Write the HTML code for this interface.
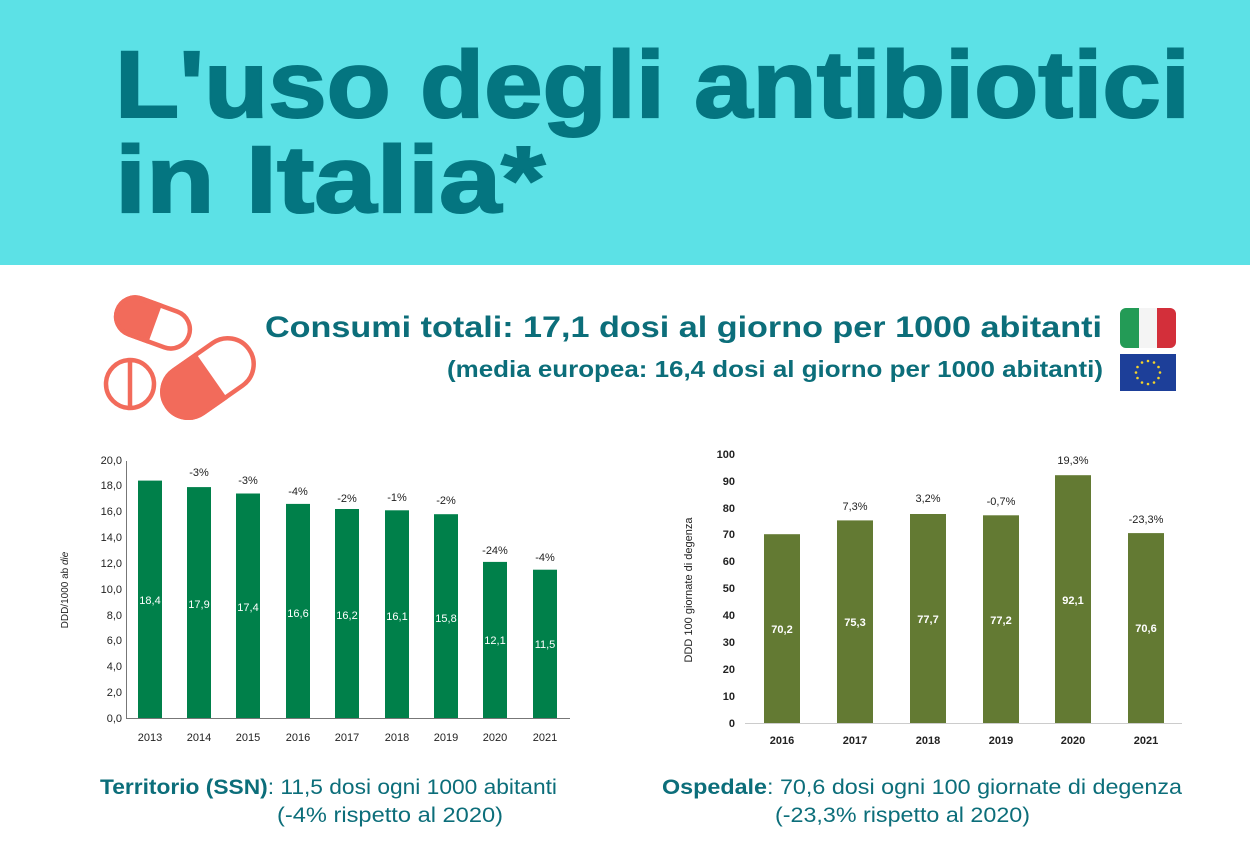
<!DOCTYPE html>
<html><head><meta charset="utf-8"><style>
html,body{margin:0;padding:0;background:#fff;}
svg{display:block;font-family:"Liberation Sans",sans-serif;}
</style></head><body>
<svg width="1250" height="859" viewBox="0 0 1250 859" xmlns="http://www.w3.org/2000/svg">
<rect x="0" y="0" width="1250" height="265" fill="#5ce1e6"/>
<g fill="#047580" font-weight="bold" font-size="95" stroke="#047580" stroke-width="2">
<text x="115" y="117" textLength="1075" lengthAdjust="spacingAndGlyphs">L'uso degli antibiotici</text>
<text x="115" y="212" textLength="430" lengthAdjust="spacingAndGlyphs">in Italia*</text>
</g>
<!-- pills -->
<g fill="none" stroke="#f26b5b" stroke-width="4.5">
<g transform="translate(153,323) rotate(20)">
<rect x="-38" y="-19" width="76" height="38" rx="19"/>
<path d="M0,-19 L-19,-19 A19,19 0 0 0 -19,19 L0,19 Z" fill="#f26b5b"/>
</g>
<circle cx="130" cy="384" r="24"/>
<line x1="130" y1="360" x2="130" y2="408"/>
<g transform="translate(208,378) rotate(-35)">
<rect x="-50" y="-26" width="100" height="52" rx="26"/>
<path d="M2,-26 L-24,-26 A26,26 0 0 0 -24,26 L2,26 Z" fill="#f26b5b"/>
</g>
</g>
<g fill="#0c6e7a" font-weight="bold">
<text x="265" y="337" font-size="30" textLength="837" lengthAdjust="spacingAndGlyphs">Consumi totali: 17,1 dosi al giorno per 1000 abitanti</text>
<text x="447" y="377" font-size="23" textLength="656" lengthAdjust="spacingAndGlyphs">(media europea: 16,4 dosi al giorno per 1000 abitanti)</text>
</g>
<!-- flags -->
<rect x="1120" y="308" width="56" height="40" rx="6" fill="#f4f4f4"/>
<path d="M1126,308 h13 v40 h-13 a6,6 0 0 1 -6,-6 v-28 a6,6 0 0 1 6,-6z" fill="#239b56"/>
<path d="M1157,308 h13 a6,6 0 0 1 6,6 v28 a6,6 0 0 1 -6,6 h-13z" fill="#d32f3a"/>
<rect x="1120" y="354" width="56" height="37" fill="#1d3f99"/>
<g fill="#f5d42a">
<circle cx="1148" cy="361" r="1.3"/><circle cx="1154" cy="362.5" r="1.3"/><circle cx="1158.5" cy="367" r="1.3"/><circle cx="1160" cy="372.5" r="1.3"/><circle cx="1158.5" cy="378" r="1.3"/><circle cx="1154" cy="382.5" r="1.3"/><circle cx="1148" cy="384" r="1.3"/><circle cx="1142" cy="382.5" r="1.3"/><circle cx="1137.5" cy="378" r="1.3"/><circle cx="1136" cy="372.5" r="1.3"/><circle cx="1137.5" cy="367" r="1.3"/><circle cx="1142" cy="362.5" r="1.3"/>
</g>
<!-- left chart -->
<g font-size="11" fill="#222">
<g text-anchor="end">
<text x="122" y="722">0,0</text><text x="122" y="696">2,0</text><text x="122" y="670">4,0</text><text x="122" y="644">6,0</text><text x="122" y="619">8,0</text><text x="122" y="593">10,0</text><text x="122" y="567">12,0</text><text x="122" y="541">14,0</text><text x="122" y="515">16,0</text><text x="122" y="489">18,0</text><text x="122" y="464">20,0</text>
</g>
<text transform="translate(68,590) rotate(-90)" text-anchor="middle" font-size="10">DDD/1000 ab <tspan font-style="italic">die</tspan></text>
</g>
<line x1="126.5" y1="461" x2="126.5" y2="718" stroke="#777"/>
<line x1="126" y1="718.5" x2="570" y2="718.5" stroke="#777"/>
<g fill="#00804a">
<rect x="138" y="480.6" width="24" height="237.4"/>
<rect x="187" y="487.1" width="24" height="230.9"/>
<rect x="236" y="493.5" width="24" height="224.5"/>
<rect x="286" y="503.9" width="24" height="214.1"/>
<rect x="335" y="509.0" width="24" height="209.0"/>
<rect x="385" y="510.3" width="24" height="207.7"/>
<rect x="434" y="514.2" width="24" height="203.8"/>
<rect x="483" y="561.9" width="24" height="156.1"/>
<rect x="533" y="569.7" width="24" height="148.3"/>
</g>
<g font-size="11" fill="#fff" text-anchor="middle">
<text x="150" y="604">18,4</text><text x="199" y="608">17,9</text><text x="248" y="611">17,4</text><text x="298" y="617">16,6</text><text x="347" y="619">16,2</text><text x="397" y="620">16,1</text><text x="446" y="622">15,8</text><text x="495" y="644">12,1</text><text x="545" y="648">11,5</text>
</g>
<g font-size="11" fill="#222" text-anchor="middle">
<text x="199" y="476">-3%</text><text x="248" y="484">-3%</text><text x="298" y="495">-4%</text><text x="347" y="502">-2%</text><text x="397" y="501">-1%</text><text x="446" y="504">-2%</text><text x="495" y="554">-24%</text><text x="545" y="561">-4%</text>
<text x="150" y="741">2013</text><text x="199" y="741">2014</text><text x="248" y="741">2015</text><text x="298" y="741">2016</text><text x="347" y="741">2017</text><text x="397" y="741">2018</text><text x="446" y="741">2019</text><text x="495" y="741">2020</text><text x="545" y="741">2021</text>
</g>
<!-- right chart -->
<g font-size="11" fill="#222" font-weight="bold" text-anchor="end">
<text x="735" y="727">0</text><text x="735" y="700">10</text><text x="735" y="673">20</text><text x="735" y="646">30</text><text x="735" y="619">40</text><text x="735" y="592">50</text><text x="735" y="565">60</text><text x="735" y="538">70</text><text x="735" y="512">80</text><text x="735" y="485">90</text><text x="735" y="458">100</text>
</g>
<text transform="translate(692,590) rotate(-90)" text-anchor="middle" font-size="11" fill="#222">DDD 100 giornate di degenza</text>
<line x1="745" y1="723.5" x2="1182" y2="723.5" stroke="#ccc"/>
<g fill="#637a33">
<rect x="764" y="534.2" width="36" height="188.8"/>
<rect x="837" y="520.4" width="36" height="202.6"/>
<rect x="910" y="514.0" width="36" height="209.0"/>
<rect x="983" y="515.3" width="36" height="207.7"/>
<rect x="1055" y="475.2" width="36" height="247.8"/>
<rect x="1128" y="533.1" width="36" height="189.9"/>
</g>
<g font-size="11" font-weight="bold" fill="#fff" text-anchor="middle">
<text x="782" y="633">70,2</text><text x="855" y="626">75,3</text><text x="928" y="623">77,7</text><text x="1001" y="624">77,2</text><text x="1073" y="604">92,1</text><text x="1146" y="632">70,6</text>
</g>
<g font-size="11" fill="#222" text-anchor="middle">
<text x="855" y="510">7,3%</text><text x="928" y="502">3,2%</text><text x="1001" y="505">-0,7%</text><text x="1073" y="464">19,3%</text><text x="1146" y="523">-23,3%</text>
</g>
<g font-size="11" font-weight="bold" fill="#222" text-anchor="middle">
<text x="782" y="744">2016</text><text x="855" y="744">2017</text><text x="928" y="744">2018</text><text x="1001" y="744">2019</text><text x="1073" y="744">2020</text><text x="1146" y="744">2021</text>
</g>
<!-- bottom captions -->
<g fill="#0c6e7a" font-size="21">
<text x="100" y="794" textLength="457" lengthAdjust="spacingAndGlyphs"><tspan font-weight="bold">Territorio (SSN)</tspan>: 11,5 dosi ogni 1000 abitanti</text>
<text x="277" y="822" textLength="226" lengthAdjust="spacingAndGlyphs">(-4% rispetto al 2020)</text>
<text x="662" y="794" textLength="520" lengthAdjust="spacingAndGlyphs"><tspan font-weight="bold">Ospedale</tspan>: 70,6 dosi ogni 100 giornate di degenza</text>
<text x="775" y="822" textLength="255" lengthAdjust="spacingAndGlyphs">(-23,3% rispetto al 2020)</text>
</g>
</svg>
</body></html>
